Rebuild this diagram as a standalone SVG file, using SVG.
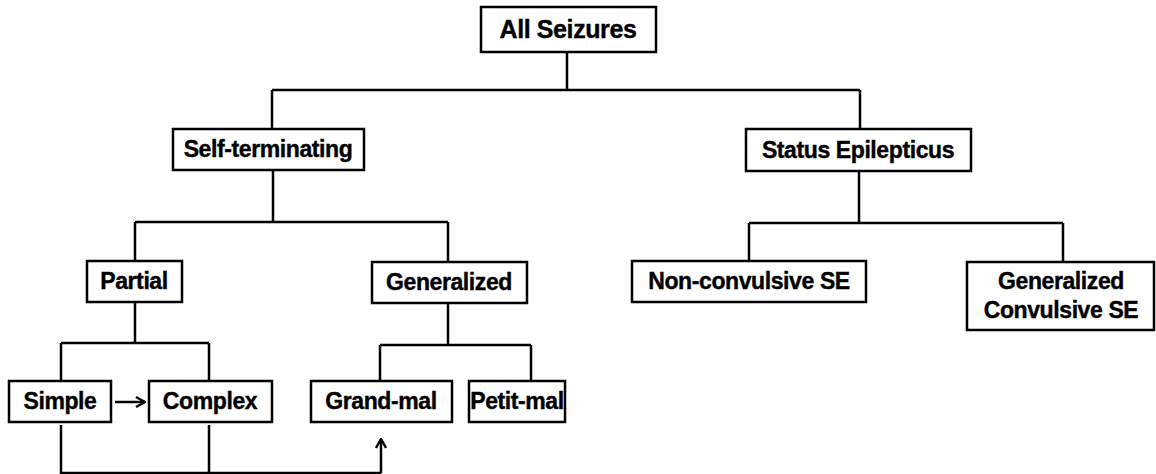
<svg xmlns="http://www.w3.org/2000/svg" width="1156" height="474" viewBox="0 0 1156 474">
<style>
.box{fill:#fff;stroke:#000;stroke-width:2.5}
.t{font-family:"Liberation Sans",Arial,sans-serif;font-weight:bold;font-size:23px;letter-spacing:-0.4px;fill:#000;stroke:#000;stroke-width:0.4;text-anchor:middle}
.c{fill:none;stroke:#000;stroke-width:2.5}
</style>
<defs>
<marker id="ah" viewBox="0 0 12 12" refX="11" refY="6" markerWidth="12" markerHeight="12" markerUnits="userSpaceOnUse" orient="auto">
<path d="M2,1 L11,6 L2,11" fill="none" stroke="#000" stroke-width="2.4"/>
</marker>
</defs>
<g id="connectors">
<path class="c" d="M567,52 V90 M272,90 H860 M272,90 V129 M860,90 V129"/>
<path class="c" d="M273,170 V222 M135,222 H448 M135,222 V261 M448,222 V261"/>
<path class="c" d="M859,171 V223 M749,223 H1063 M749,223 V261 M1063,223 V262"/>
<path class="c" d="M135,302 V343 M61,343 H209 M61,343 V381 M209,343 V381"/>
<path class="c" d="M448,303 V345 M380,345 H531 M380,345 V381 M531,345 V381"/>
<path class="c" d="M115,402 H145" marker-end="url(#ah)"/>
<path class="c" d="M61,425 V473 H381 M209,425 V473"/>
<path class="c" d="M381,473 V439" marker-end="url(#ah)"/>
</g>
<g id="all-seizures"><rect class="box" x="481" y="7" width="175" height="45"/><text class="t" x="568" y="38" style="font-size:25px">All Seizures</text></g>
<g id="self-terminating"><rect class="box" x="173" y="129" width="191" height="41"/><text class="t" x="268" y="157">Self-terminating</text></g>
<g id="status-epilepticus"><rect class="box" x="746" y="129" width="225" height="42"/><text class="t" x="858" y="158">Status Epilepticus</text></g>
<g id="partial"><rect class="box" x="87" y="261" width="95" height="41"/><text class="t" x="134" y="289">Partial</text></g>
<g id="generalized"><rect class="box" x="372" y="262" width="155" height="41"/><text class="t" x="449" y="290">Generalized</text></g>
<g id="non-convulsive-se"><rect class="box" x="632" y="261" width="234" height="41"/><text class="t" x="749" y="289">Non-convulsive SE</text></g>
<g id="generalized-convulsive-se"><rect class="box" x="967" y="262" width="187" height="68"/><text class="t" x="1061" y="289">Generalized</text><text class="t" x="1061" y="318">Convulsive  SE</text></g>
<g id="simple"><rect class="box" x="9" y="381" width="102" height="41"/><text class="t" x="60" y="409">Simple</text></g>
<g id="complex"><rect class="box" x="149" y="381" width="123" height="41"/><text class="t" x="210" y="409">Complex</text></g>
<g id="grand-mal"><rect class="box" x="311" y="381" width="141" height="41"/><text class="t" x="381" y="409">Grand-mal</text></g>
<g id="petit-mal"><rect class="box" x="469" y="381" width="96" height="41"/><text class="t" x="517" y="409">Petit-mal</text></g>
</svg>
